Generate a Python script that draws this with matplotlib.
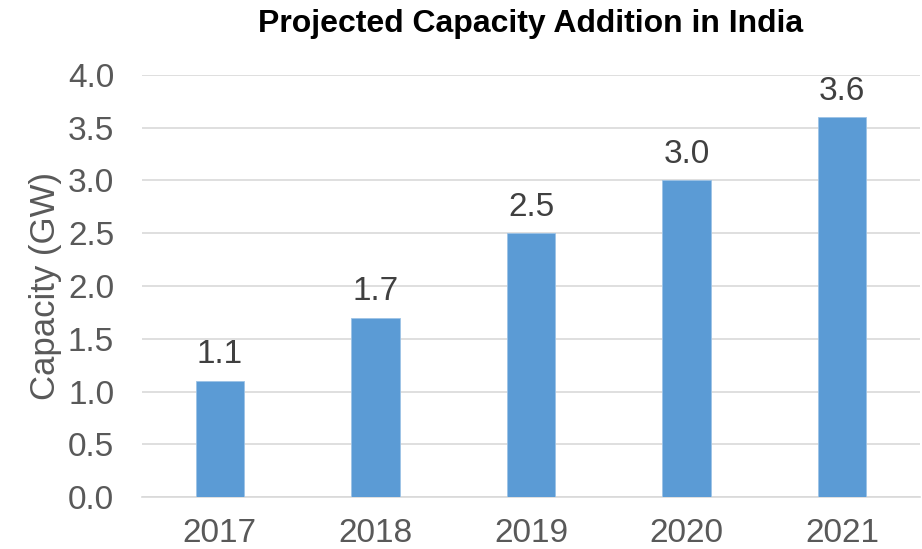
import matplotlib.pyplot as plt

plt.rcParams['font.family'] = ['Liberation Sans', 'DejaVu Sans']

years = ['2017', '2018', '2019', '2020', '2021']
capacity = [1.1, 1.7, 2.5, 3.0, 3.6]

fig = plt.figure(figsize=(9.22, 5.49), dpi=100)
ax = fig.add_axes([142 / 922, 52 / 549, 778 / 922, 422 / 549])

bars = ax.bar(years, capacity, width=0.31, color='#5B9BD5', edgecolor='#9DC3E6',
              linewidth=0.6, zorder=3)
for b, v in zip(bars, capacity):
    ax.text(b.get_x() + b.get_width() / 2, v + 0.1, f'{v:.1f}', ha='center', va='bottom',
            fontsize=24, color='#404040')

ax.set_ylim(0, 4.0)
ax.set_xlim(-0.5, 4.5)
ax.set_yticks([0, 0.5, 1.0, 1.5, 2.0, 2.5, 3.0, 3.5, 4.0])
ax.set_yticklabels([f'{t:.1f}' for t in ax.get_yticks()])
ax.yaxis.grid(True, color='#D9D9D9', linewidth=1.2, zorder=0)
for s in ['top', 'right', 'left']:
    ax.spines[s].set_visible(False)
ax.spines['bottom'].set_color('#D9D9D9')
ax.spines['bottom'].set_linewidth(1.2)
ax.tick_params(axis='both', length=0, labelsize=24, colors='#595959')
ax.tick_params(axis='y', pad=20)
ax.tick_params(axis='x', pad=15)

ax.set_ylabel('Capacity (GW)', fontsize=25, color='#595959', labelpad=4)
ax.set_title('Projected Capacity Addition in India', fontsize=23, fontweight='bold',
             color='black', pad=31)

fig.savefig('out.png', dpi=100)
